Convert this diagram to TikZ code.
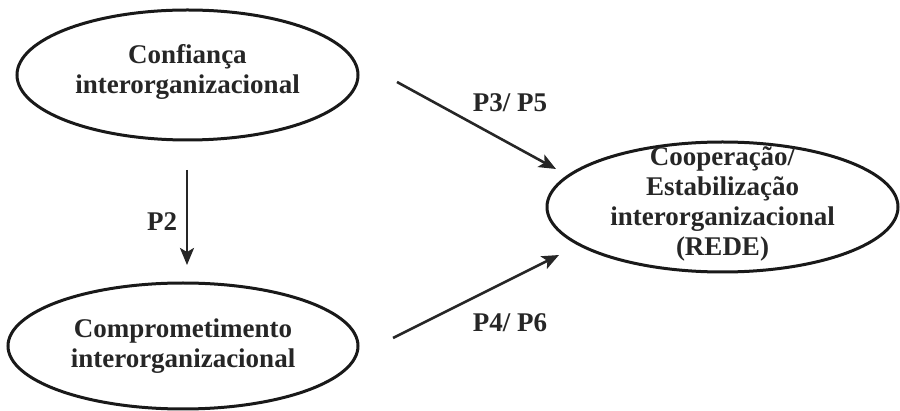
\documentclass[tikz,border=0pt]{standalone}
\usepackage{fontspec}
\setmainfont{Liberation Serif}
\usetikzlibrary{shapes.geometric,arrows.meta}
\begin{document}
\begin{tikzpicture}[x=1pt,y=-1pt,
  oval/.style={draw=black!90,line width=3pt,ellipse,inner sep=0pt},
  txt/.style={align=center,font=\fontsize{27}{30}\selectfont\bfseries,text=black!85,inner sep=0pt},
  lbl/.style={font=\fontsize{27}{30}\selectfont\bfseries,text=black!85,inner sep=0pt},
  arr/.style={line width=2.6pt,draw=black!85,-{Stealth[length=17pt,width=14pt,inset=4pt]}}]
\useasboundingbox (0,0) rectangle (900,411);
\node[oval,minimum width=341pt,minimum height=130pt] (e1) at (187.5,75) {};
\node[oval,minimum width=350pt,minimum height=126pt] (e2) at (183,346) {};
\node[oval,minimum width=351pt,minimum height=130pt] (e3) at (722.5,207) {};
\node[txt] (t1) at ([yshift=3pt]e1.center) {Confiança\\interorganizacional};
\node[txt] (t2) at ([yshift=0pt]e2.center) {Comprometimento\\interorganizacional};
\node[txt] (t3) at ([yshift=3pt]e3.center) {Cooperação/\\Estabilização\\interorganizacional\\(REDE)};
\coordinate (a1s) at (397,82);
\coordinate (a1e) at (556,169);
\coordinate (a2s) at (393,338);
\coordinate (a2e) at (559,255);
\coordinate (p2s) at (187,170);
\coordinate (p2e) at (187,265);
\draw[arr] (a1s) -- (a1e);
\draw[arr] (a2s) -- (a2e);
\draw[arr] (p2s) -- (p2e);
\node[lbl] (l1) at (510,103) {P3/ P5};
\node[lbl] (l2) at (510,323) {P4/ P6};
\node[lbl] (l3) at (162,222) {P2};
\end{tikzpicture}
\end{document}
